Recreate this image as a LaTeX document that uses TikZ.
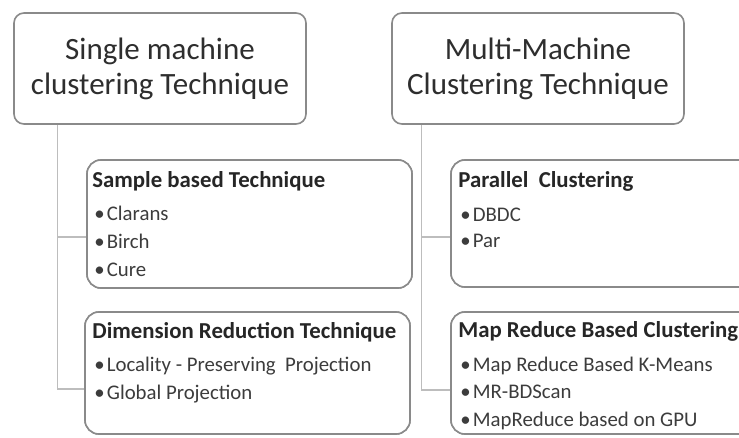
\documentclass[tikz,border=0pt]{standalone}
\usepackage{fontspec}
\setmainfont{Carlito}
\usetikzlibrary{calc}
\definecolor{boxline}{HTML}{8A8A8A}
\definecolor{treeline}{HTML}{BDBDBD}
\definecolor{titletext}{HTML}{2E2E2E}
\definecolor{itemtext}{HTML}{3C3C3C}
\tikzset{
  topbox/.style={draw=boxline, line width=1.6pt, rounded corners=10pt, fill=white,
    minimum width=292pt, minimum height=111pt, inner sep=0pt, align=center,
    text=titletext, font=\fontsize{31}{35}\selectfont},
  subbox/.style={draw=boxline, line width=1.6pt, rounded corners=14pt, fill=white,
    minimum width=325pt, inner sep=0pt},
  tree/.style={draw=treeline, line width=1.4pt},
  heading/.style={anchor=base west, inner sep=0pt, text=black!85,
    font=\fontsize{22.8}{24}\bfseries\selectfont},
  item/.style={anchor=base west, inner sep=0pt, text=itemtext,
    font=\fontsize{20.8}{22}\selectfont},
}
\newcommand{\bul}[1]{\makebox[12.5pt][l]{•}#1}
\begin{document}
\begin{tikzpicture}[x=1pt,y=-1pt]
  \useasboundingbox (0,0) rectangle (739,437);
  \clip (0,0) rectangle (739,437);
  \fill[white] (0,0) rectangle (739,437);

  % top level boxes
  \node[topbox] (single) at (160,68.5) {Single machine\\clustering Technique};
  \node[topbox] (multi)  at (538,68.5) {Multi-Machine\\Clustering Technique};

  % second level box positions
  \node[subbox, minimum height=128pt] (sample)   at (249.5,224) {};
  \node[subbox, minimum height=122pt] (dimred)   at (247.5,373) {};
  \node[subbox, minimum height=127pt] (parallel) at (613.5,223.5) {};
  \node[subbox, minimum height=122pt] (mapred)   at (613.5,373) {};

  % tree connectors
  \coordinate (ltrunk) at ($(single.south west)+(44,0)$);
  \coordinate (rtrunk) at ($(multi.south west)+(30,0)$);
  \draw[tree] (ltrunk) |- ($(sample.west)+(0,13)$);
  \draw[tree] (ltrunk) |- ($(dimred.west)+(0,16)$);
  \draw[tree] (rtrunk) |- ($(parallel.west)+(0,13.5)$);
  \draw[tree] (rtrunk) |- ($(mapred.west)+(0,17)$);

  % box outlines drawn over the connector ends
  \node[subbox, minimum height=128pt] at (sample) {};
  \node[subbox, minimum height=122pt] at (dimred) {};
  \node[subbox, minimum height=127pt] at (parallel) {};
  \node[subbox, minimum height=122pt] at (mapred) {};

  % sample based technique
  \node[heading] (sh) at ($(sample.north west)+(6,28)$) {Sample based Technique};
  \node[item] (s1) at ($(sample.north west)+(8,61)$) {\bul{Clarans}};
  \node[item] (s2) at ($(sample.north west)+(8,89)$) {\bul{Birch}};
  \node[item] (s3) at ($(sample.north west)+(8,117)$) {\bul{Cure}};

  % dimension reduction technique
  \node[heading] (dh) at ($(dimred.north west)+(8,27)$) {Dimension Reduction Technique};
  \node[item] (d1) at ($(dimred.north west)+(10,60)$) {\bul{Locality - Preserving\ \ Projection}};
  \node[item] (d2) at ($(dimred.north west)+(10,88)$) {\bul{Global Projection}};

  % parallel clustering
  \node[heading] (ph) at ($(parallel.north west)+(8,28)$) {Parallel\ \ Clustering};
  \node[item] (p1) at ($(parallel.north west)+(10,62)$) {\bul{DBDC}};
  \node[item] (p2) at ($(parallel.north west)+(10,88)$) {\bul{Par}};

  % map reduce based clustering
  \node[heading] (mh) at ($(mapred.north west)+(8,26)$) {Map Reduce Based Clustering};
  \node[item] (m1) at ($(mapred.north west)+(10,60)$) {\bul{Map Reduce Based K-Means}};
  \node[item] (m2) at ($(mapred.north west)+(10,87)$) {\bul{MR-BDScan}};
  \node[item] (m3) at ($(mapred.north west)+(10,115)$) {\bul{MapReduce based on GPU}};
\end{tikzpicture}
\end{document}
